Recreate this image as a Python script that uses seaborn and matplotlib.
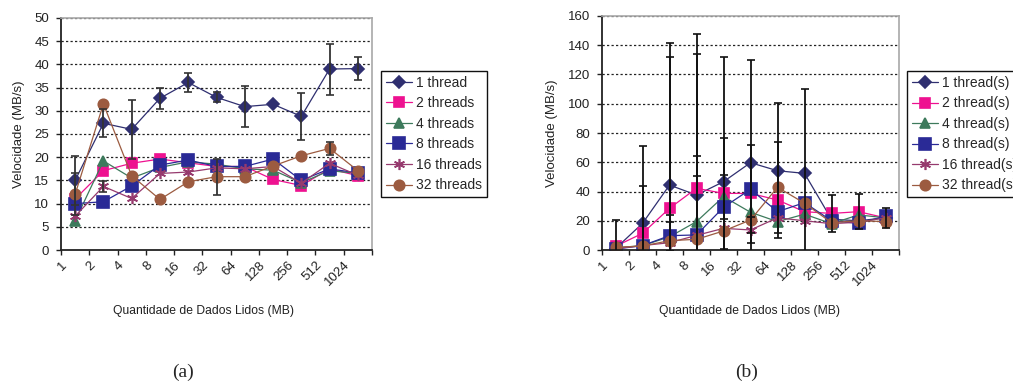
import numpy as np
import pandas as pd
import matplotlib
matplotlib.use("Agg")
import matplotlib.pyplot as plt
import seaborn as sns

# ---------------- data ----------------
categories = ["1", "2", "4", "8", "16", "32", "64", "128", "256", "512", "1024"]

labels_a = ["1 thread", "2 threads", "4 threads", "8 threads", "16 threads", "32 threads"]
labels_b = ["1 thread(s)", "2 thread(s)", "4 thread(s)", "8 thread(s)", "16 thread(s)", "32 thread(s)"]

# panel (a) values (MB/s)
a_t1 = [15.0, 27.3, 26.0, 32.7, 36.1, 32.9, 30.9, 31.4, 28.8, 39.0, 39.1]
a_t2 = [11.0, 17.1, 18.7, 19.6, 18.8, 18.0, 18.0, 15.2, 13.9, 17.5, 16.0]
a_t4 = [6.3, 19.2, 15.5, 17.8, 19.0, 18.5, 17.5, 17.2, 14.5, 17.1, 16.5]
a_t8 = [10.0, 10.4, 13.8, 18.3, 19.4, 18.0, 18.0, 19.6, 15.0, 17.5, 16.6]
a_t16 = [7.3, 13.7, 11.1, 16.5, 16.8, 17.7, 17.5, 18.0, 14.4, 18.7, 16.1]
a_t32 = [12.0, 31.5, 16.0, 10.9, 14.7, 15.8, 15.8, 18.1, 20.3, 21.9, 17.1]

# panel (a) error bars
a_e1 = [5.3, 3.0, 6.3, 2.3, 2.1, 1.1, 4.4, 0.0, 5.0, 5.5, 2.5]
a_e2 = [0, 0, 0, 0, 0, 0, 0, 0, 0, 0, 0]
a_e4 = [0, 0, 0, 0, 0, 0, 0, 0, 0, 0, 0]
a_e8 = [0, 0, 0, 0, 0, 0, 0, 0, 0, 0, 0]
a_e16 = [0, 1.2, 0, 0, 0, 0, 0, 0, 0, 0, 0]
a_e32 = [4.5, 0, 0, 0, 0, 3.9, 0, 0, 0, 1.4, 0]

# panel (b) values (MB/s)
b_t1 = [1.0, 18.2, 44.4, 37.6, 46.7, 59.7, 54.2, 52.4, 21.0, 20.0, 22.0]
b_t2 = [2.5, 11.4, 28.5, 42.2, 38.7, 38.7, 34.2, 26.2, 25.0, 26.2, 22.0]
b_t4 = [1.5, 3.0, 9.0, 19.4, 36.5, 25.8, 19.4, 24.5, 18.0, 24.0, 22.0]
b_t8 = [0.6, 3.0, 9.8, 10.3, 29.2, 41.5, 26.2, 32.4, 20.0, 18.2, 23.2]
b_t16 = [1.0, 3.0, 5.0, 10.0, 14.8, 13.7, 22.0, 20.0, 18.0, 19.0, 22.0]
b_t32 = [1.8, 2.7, 6.4, 7.3, 13.0, 20.5, 42.9, 32.0, 18.7, 20.0, 19.4]

# panel (b) error bars
b_e1 = [19.5, 53.0, 97.0, 110.0, 85.0, 70.0, 46.0, 58.0, 0, 0, 7.0]
b_e2 = [0, 32.6, 103.5, 92.0, 38.0, 0, 0, 0, 12.6, 12.0, 0]
b_e4 = [0, 0, 10.0, 45.0, 15.0, 0, 0, 0, 0, 0, 0]
b_e8 = [0, 0, 14.0, 40.0, 0, 30.0, 0, 0, 0, 0, 0]
b_e16 = [0, 0, 0, 0, 0, 9.0, 0, 0, 0, 0, 0]
b_e32 = [0, 0, 0, 0, 0, 0, 31.0, 0, 0, 0, 0]

# ---------------- style ----------------
sns.set_theme(style="white")
plt.rcParams["font.family"] = ["Liberation Sans", "DejaVu Sans"]

colors = ["#2F2F70", "#EE1190", "#3D7A5C", "#2A2A96", "#963A6E", "#9C5B40"]
markers = ["D", "s", "^", "s", (6, 2, 0), "o"]
msizes = [6.5, 7.5, 7.5, 9.0, 8.0, 7.5]

fig = plt.figure(figsize=(10.13, 3.83), dpi=100)
W, H = 1013.0, 383.0


def make_ax(l, r, t, b):
    return fig.add_axes([l / W, 1 - b / H, (r - l) / W, (b - t) / H])


ax_a = make_ax(61, 372, 18, 250)
ax_b = make_ax(602, 899, 16, 250)

xpos = np.arange(len(categories)) + 0.5


def draw(ax, vals, errs, labels, ymax, ystep, ecol):
    for i, (v, e, lab) in enumerate(zip(vals, errs, labels)):
        df = pd.DataFrame({"x": xpos, "v": v})
        sns.lineplot(data=df, x="x", y="v", ax=ax, color=colors[i], marker=markers[i],
                     markersize=msizes[i], markeredgecolor=colors[i], markerfacecolor=colors[i],
                     markeredgewidth=1.2, linewidth=0.9, label=lab, zorder=2 + i * 0.01)
        e = np.asarray(e, dtype=float)
        m = e > 0
        if m.any():
            ax.errorbar(xpos[m], np.asarray(v)[m], yerr=e[m], fmt="none", ecolor=ecol,
                        elinewidth=1.3, capsize=3, capthick=1.2, zorder=3)
    ax.set_xlim(0, len(categories))
    ax.set_ylim(0, ymax)
    ax.set_xticks(np.arange(len(categories) + 1))
    ax.set_xticklabels(categories + [""], rotation=45, ha="right", va="top",
                       rotation_mode="anchor", fontsize=9.5, color="#222222")
    ax.set_yticks(np.arange(0, ymax + 0.1, ystep))
    ax.set_yticklabels([f"{int(t)}" for t in np.arange(0, ymax + 0.1, ystep)], fontsize=9.5,
                       color="#222222")
    ax.tick_params(axis="both", direction="out", length=3.5, width=1, color="#222222",
                   bottom=True, left=True)
    ax.tick_params(axis="y", pad=5)
    ax.tick_params(axis="x", pad=3)
    for y in np.arange(ystep, ymax + 0.1, ystep):
        ax.axhline(y, color="#222222", lw=0.9, ls=(0, (1.8, 1.8)), zorder=0.5)
    for s in ["left", "bottom"]:
        ax.spines[s].set_color("#222222")
        ax.spines[s].set_linewidth(1.3)
    for s in ["top", "right"]:
        ax.spines[s].set_color("#A8A8A8")
        ax.spines[s].set_linewidth(1.2)
    ax.set_xlabel("")
    ax.set_ylabel("")
    ax.set_facecolor("white")


draw(ax_a, [a_t1, a_t2, a_t4, a_t8, a_t16, a_t32],
     [a_e1, a_e2, a_e4, a_e8, a_e16, a_e32], labels_a, 50, 5, "#333333")
draw(ax_b, [b_t1, b_t2, b_t4, b_t8, b_t16, b_t32],
     [b_e1, b_e2, b_e4, b_e8, b_e16, b_e32], labels_b, 160, 20, "#111111")

for ax, lx, xlx, lg in [(ax_a, -0.115, 0.457, (1.029, 0.772)),
                        (ax_b, -0.148, 0.498, (1.027, 0.765))]:
    ax.set_ylabel("Velocidade (MB/s)", fontsize=9.5, color="#222222")
    ax.yaxis.set_label_coords(lx, 0.5)
    ax.set_xlabel("Quantidade de Dados Lidos (MB)", fontsize=8.7, color="#222222")
    ax.xaxis.set_label_coords(xlx, -0.237)
    leg = ax.legend(loc="upper left", bbox_to_anchor=lg, borderaxespad=0, fontsize=10,
                    frameon=True, fancybox=False, edgecolor="#111111", framealpha=1,
                    handlelength=1.9, handletextpad=0.3, labelspacing=0.47,
                    borderpad=0.35)
    leg.get_frame().set_linewidth(1.0)

fig.text(183 / W, 1 - 372 / H, "(a)", ha="center", va="center", fontsize=14,
         family=["Liberation Serif", "DejaVu Serif"])
fig.text(747 / W, 1 - 372 / H, "(b)", ha="center", va="center", fontsize=14,
         family=["Liberation Serif", "DejaVu Serif"])

fig.savefig("out.png", dpi=100, facecolor="white")
